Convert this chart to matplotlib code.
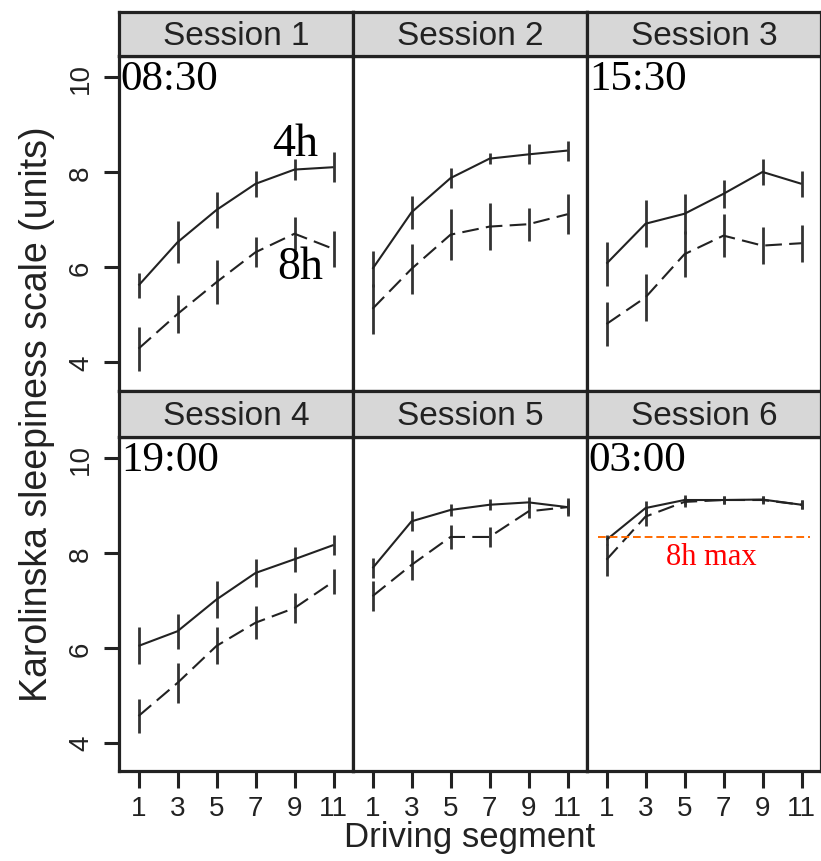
import numpy as np
import matplotlib
matplotlib.use('Agg')
import matplotlib.pyplot as plt

# Karolinska sleepiness scale by driving segment, 4h vs 8h, six sessions
segments = [1, 3, 5, 7, 9, 11]
sessions = ['Session 1', 'Session 2', 'Session 3', 'Session 4', 'Session 5', 'Session 6']
times = ['08:30', '', '15:30', '19:00', '', '03:00']

kss_4h = [
    [5.62, 6.53, 7.21, 7.76, 8.06, 8.11],
    [5.97, 7.16, 7.88, 8.29, 8.38, 8.46],
    [6.08, 6.92, 7.13, 7.55, 8.01, 7.76],
    [6.04, 6.35, 7.02, 7.58, 7.87, 8.17],
    [7.68, 8.67, 8.91, 9.02, 9.07, 8.97],
    [8.28, 8.95, 9.12, 9.12, 9.13, 9.02],
]
err_4h = [
    [0.26, 0.44, 0.38, 0.28, 0.23, 0.32],
    [0.38, 0.35, 0.21, 0.12, 0.21, 0.21],
    [0.46, 0.49, 0.42, 0.30, 0.28, 0.28],
    [0.39, 0.37, 0.39, 0.30, 0.26, 0.21],
    [0.21, 0.21, 0.12, 0.12, 0.12, 0.19],
    [0.10, 0.15, 0.10, 0.08, 0.08, 0.10],
]
kss_8h = [
    [4.29, 5.02, 5.69, 6.32, 6.71, 6.39],
    [5.13, 5.97, 6.69, 6.86, 6.91, 7.12],
    [4.81, 5.37, 6.28, 6.67, 6.46, 6.51],
    [4.56, 5.26, 6.04, 6.53, 6.84, 7.40],
    [7.09, 7.75, 8.34, 8.34, 8.88, 8.97],
    [7.86, 8.77, 9.08, 9.12, 9.12, 9.02],
]
err_8h = [
    [0.46, 0.40, 0.46, 0.32, 0.35, 0.37],
    [0.52, 0.53, 0.53, 0.49, 0.35, 0.42],
    [0.46, 0.49, 0.49, 0.46, 0.39, 0.39],
    [0.35, 0.42, 0.39, 0.35, 0.32, 0.26],
    [0.32, 0.32, 0.26, 0.21, 0.15, 0.15],
    [0.34, 0.20, 0.10, 0.08, 0.08, 0.10],
]
max_8h = 8.33

W, H = 821, 862
fig = plt.figure(figsize=(W / 100, H / 100), dpi=100)
sans = 'Liberation Sans'
serif = 'Liberation Serif'

def px(x0, y0, x1, y1):
    return [x0 / W, 1 - y1 / H, (x1 - x0) / W, (y1 - y0) / H]

col_x = [119, 353, 587]
col_w = 234
rows = [(13, 57, 392), (392, 438, 772)]  # strip top, panel top, panel bottom
frame_lw = 2.3
dark = '#222222'

for i in range(6):
    r, c = divmod(i, 3)
    st, pt, pb = rows[r]
    x0 = col_x[c]
    ax = fig.add_axes(px(x0, pt, x0 + col_w, pb))
    strip = fig.add_axes(px(x0, st, x0 + col_w, pt))

    # strip
    strip.set_facecolor('#d7d7d7')
    strip.set_xticks([])
    strip.set_yticks([])
    for s in strip.spines.values():
        s.set_linewidth(frame_lw)
        s.set_color(dark)
    strip.text(0.5, 0.47, sessions[i], ha='center', va='center',
               fontsize=24, family=sans, color='#222222', transform=strip.transAxes)

    x = np.array(segments)
    ax.errorbar(x, kss_4h[i], yerr=err_4h[i], fmt='none', ecolor='#333333',
                elinewidth=2.0, capsize=0)
    ax.errorbar(x, kss_8h[i], yerr=err_8h[i], fmt='none', ecolor='#333333',
                elinewidth=2.0, capsize=0)
    ax.plot(x, kss_4h[i], color='#222222', lw=1.5, solid_capstyle='butt')
    ax.plot(x, kss_8h[i], color='#222222', lw=1.5, dashes=(8, 3.5))

    ax.set_xlim(0, 12)
    ax.set_ylim(3.4, 10.45)
    for s in ax.spines.values():
        s.set_linewidth(frame_lw)
        s.set_color(dark)

    if c == 0:
        ax.set_yticks([4, 6, 8, 10])
        ax.set_yticklabels(['4', '6', '8', '10'], rotation=90, va='center',
                           fontsize=20, family=sans, color='#222222')
        ax.tick_params(axis='y', length=11, width=2.2, color=dark, pad=7)
    else:
        ax.set_yticks([])
    if r == 1:
        ax.set_xticks(segments)
        ax.set_xticklabels([str(s) for s in segments], fontsize=20,
                           family=sans, color='#222222')
        ax.tick_params(axis='x', length=12, width=2.2, color=dark, pad=5)
    else:
        ax.set_xticks([])

    if times[i]:
        ax.text(0.008, 0.99, times[i], transform=ax.transAxes, ha='left', va='top',
                fontsize=31, family=serif, color='black')

    if i == 0:
        ax.text(7.85, 8.36, '4h', ha='left', va='baseline', fontsize=33,
                family=serif, color='black')
        ax.text(8.1, 5.77, '8h', ha='left', va='baseline', fontsize=33,
                family=serif, color='black')
    if i == 5:
        ax.hlines(max_8h, 0.54, 11.46, colors='#ff6a00', linestyles=(0, (4, 2)), lw=1.4)
        ax.text(6.4, 7.77, '8h max', ha='center', va='baseline', fontsize=22,
                family=serif, color='red')

fig.text(37 / W, 1 - 414 / H, 'Karolinska sleepiness scale (units)', rotation=90,
         ha='center', va='center', fontsize=27, family=sans, color='#222222')
fig.text(470 / W, 1 - 838 / H, 'Driving segment', ha='center', va='center',
         fontsize=25, family=sans, color='#222222')

fig.savefig('out.png', dpi=100)
